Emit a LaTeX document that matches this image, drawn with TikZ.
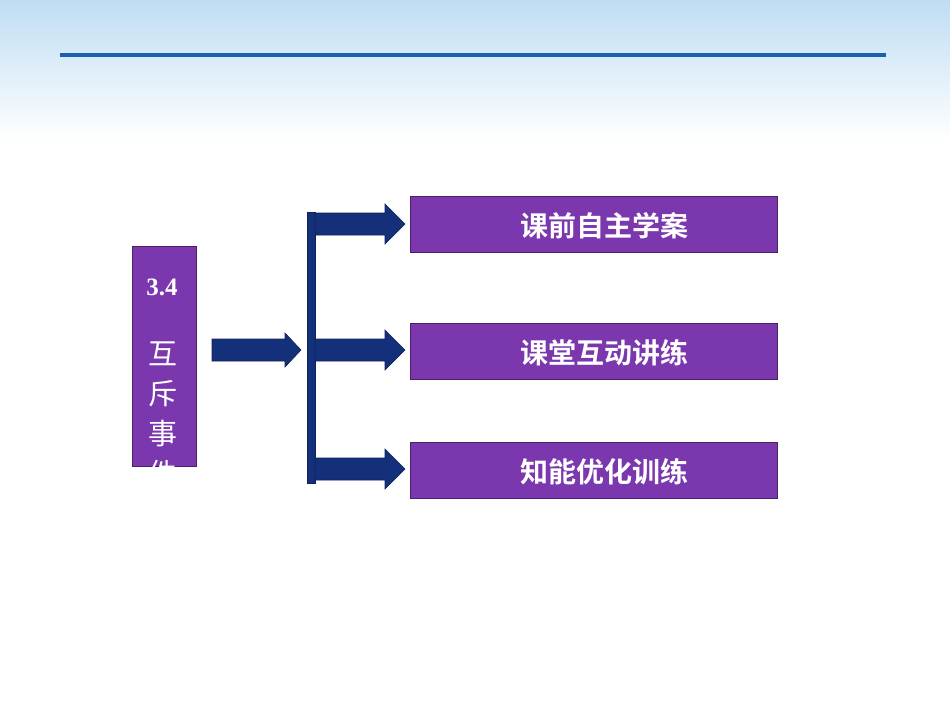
\documentclass[tikz,border=0pt]{standalone}
\usepackage{fontspec}
\newfontfamily\cjk{Noto Sans CJK SC}
\newfontfamily\cjkb{Noto Sans CJK SC Bold}
\setmainfont{Liberation Serif}
\begin{document}
\begin{tikzpicture}[x=1pt,y=-1pt,
  pbox/.style={fill=violetc, draw=violetc!60!black, line width=0.6pt, inner sep=0pt, text=white},
  rbox/.style={pbox, minimum width=367, minimum height=56, anchor=north west, font=\cjkb\fontsize{28}{32}\selectfont, text depth=0pt},
  arr/.style={fill=navyc, draw=navyc!70!black, line width=0.6pt}]
\definecolor{navyc}{HTML}{14307A}
\definecolor{violetc}{HTML}{7B37AD}
\definecolor{skyc}{HTML}{BFDDF3}
\definecolor{linec}{HTML}{1A5FB0}
\useasboundingbox (0,0) rectangle (950,713);
\shade[top color=skyc, bottom color=white] (0,0) rectangle (950,140);
\fill[white] (0,140) rectangle (950,713);
\fill[linec] (60,53) rectangle (886,57);
% left box
\node[pbox, minimum width=64, minimum height=220, anchor=north west] (L) at (132,246) {};
\begin{scope}
\clip (132,246) rectangle (196,466);
\node[text=white, font=\bfseries\fontsize{25}{28}\selectfont] (t34) at (162,287) {3.4};
\node[text=white, font=\cjk\fontsize{29}{40}\selectfont, align=center, anchor=north, inner sep=0pt] (tv) at (163,342) {互\\斥\\事\\件};
\end{scope}
% right boxes
\node[rbox] (b1) at (410,196) {\hspace*{22pt}课前自主学案};
\node[rbox] (b2) at (410,323) {\hspace*{22pt}课堂互动讲练};
\node[rbox] (b3) at (410,442) {\hspace*{22pt}知能优化训练};
% vertical bar
\node[arr, minimum width=8, minimum height=271, inner sep=0pt, anchor=north west] (bar) at (307,212) {};
% left arrow
\draw[arr] (212,339) -- (285,339) -- (285,333) -- (301,350) -- (285,367) -- (285,361) -- (212,361) -- cycle;
% branch arrows
\foreach \y in {224,350,469}{
  \draw[arr] (315,\y-11) -- (385,\y-11) -- (385,\y-20) -- (405,\y) -- (385,\y+20) -- (385,\y+11) -- (315,\y+11) -- cycle;
}
\end{tikzpicture}
\end{document}
